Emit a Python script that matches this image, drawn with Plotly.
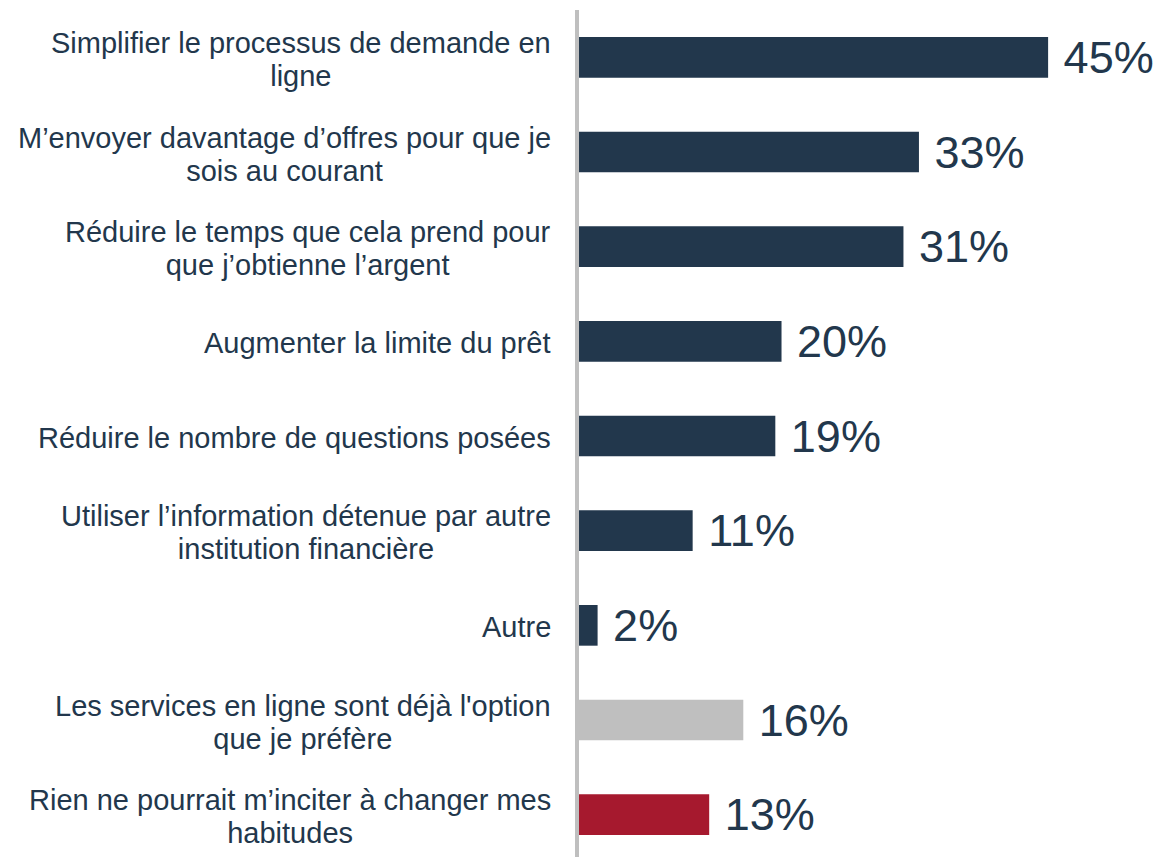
import plotly.graph_objects as go

categories = [
    "Simplifier le processus de demande en<br>ligne",
    "M’envoyer davantage d’offres pour que je<br>sois au courant",
    "Réduire le temps que cela prend pour<br>que j’obtienne l’argent",
    "Augmenter la limite du prêt",
    "Réduire le nombre de questions posées",
    "Utiliser l’information détenue par autre<br>institution financière",
    "Autre",
    "Les services en ligne sont déjà l'option<br>que je préfère",
    "Rien ne pourrait m’inciter à changer mes<br>habitudes",
]
values = [45.4, 32.9, 31.4, 19.6, 19.0, 11.0, 1.8, 15.9, 12.6]
bar_colors = ["#22374C"] * 7 + ["#BFBFBF", "#A6192E"]

navy = "#22374C"
font_family = "Arial, Liberation Sans, sans-serif"

fig = go.Figure(
    go.Bar(
        x=values,
        y=categories,
        orientation="h",
        marker=dict(color=bar_colors, line_width=0),
        texttemplate=" %{x:.0f}%",
        textposition="outside",
        constraintext="none",
        textfont=dict(size=45, color=navy, family=font_family),
        cliponaxis=False,
    )
)

# category labels as annotations so wrapped lines are centred;
# a smaller base font keeps the line spacing tight
for cat in categories:
    lines = cat.split("<br>")
    label = "<br>".join('<span style="font-size:29px">%s</span>' % ln for ln in lines)
    fig.add_annotation(
        x=0, xref="paper", y=cat, yref="y",
        text=label, showarrow=False,
        xanchor="right", align="center", xshift=-26, yshift=-2,
        font=dict(size=25.4, color=navy, family=font_family),
    )

# page body adds an 8px offset, margins compensate for it
fig.update_layout(
    width=1161,
    height=857,
    margin=dict(l=571, r=0, t=2, b=3, autoexpand=False),
    plot_bgcolor="white",
    paper_bgcolor="white",
    showlegend=False,
    bargap=0.57,
    xaxis=dict(range=[0, 57.1], visible=False),
    yaxis=dict(
        categoryorder="array",
        categoryarray=categories,
        autorange="reversed",
        showticklabels=False,
        showgrid=False,
        zeroline=False,
        showline=True,
        linecolor="#BFBFBF",
        linewidth=4,
        ticks="",
    ),
)

fig.write_html("out.html")
